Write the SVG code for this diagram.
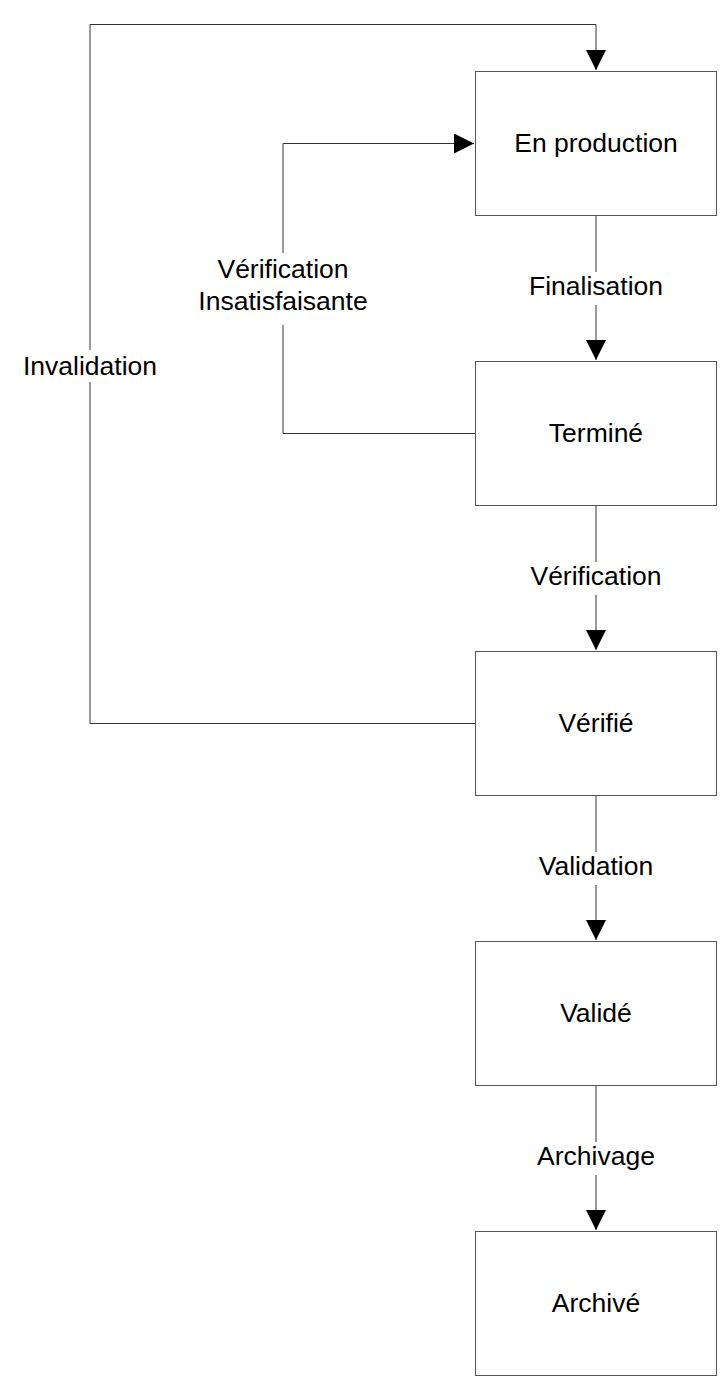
<svg xmlns="http://www.w3.org/2000/svg" width="722" height="1382" viewBox="0 0 722 1382">
<style>
.box{fill:#fff;stroke:#555;stroke-width:1}
.t{font-family:"Liberation Sans",Arial,sans-serif;font-size:26.5px;fill:#000;text-anchor:middle}
.c{fill:none;stroke:#333;stroke-width:1}
.bg{fill:#fff}
</style>
<defs>
<marker id="ah" viewBox="0 0 20 20" refX="20" refY="10" markerWidth="20" markerHeight="20" markerUnits="userSpaceOnUse" orient="auto">
<path d="M0,0 L20,10 L0,20 Z" fill="#000"/>
</marker>
</defs>
<g id="connectors">
<path class="c" d="M596,215 V360" marker-end="url(#ah)"/>
<path class="c" d="M596,506 V650" marker-end="url(#ah)"/>
<path class="c" d="M596,796 V940" marker-end="url(#ah)"/>
<path class="c" d="M596,1086 V1230" marker-end="url(#ah)"/>
<path class="c" d="M475,433.5 H283 V143.5 H474" marker-end="url(#ah)"/>
<path class="c" d="M475,723.5 H90 V24.5 H596 V70" marker-end="url(#ah)"/>
<rect class="bg" x="525" y="272" width="142" height="33"/>
<rect class="bg" x="523" y="562" width="146" height="33"/>
<rect class="bg" x="530" y="852" width="132" height="33"/>
<rect class="bg" x="531" y="1142" width="130" height="33"/>
<rect class="bg" x="193" y="253" width="180" height="72"/>
<rect class="bg" x="18" y="350" width="144" height="32"/>
<text class="t" x="596" y="295">Finalisation</text>
<text class="t" x="596" y="585">Vérification</text>
<text class="t" x="596" y="875">Validation</text>
<text class="t" x="596" y="1165">Archivage</text>
<text class="t" x="283" y="278">Vérification</text>
<text class="t" x="283" y="310">Insatisfaisante</text>
<text class="t" x="90" y="375">Invalidation</text>
</g>
<g id="en-production"><rect class="box" x="475.5" y="71.5" width="241" height="144"/><text class="t" x="596" y="152">En production</text></g>
<g id="termine"><rect class="box" x="475.5" y="361.5" width="241" height="144"/><text class="t" x="596" y="442">Terminé</text></g>
<g id="verifie"><rect class="box" x="475.5" y="651.5" width="241" height="144"/><text class="t" x="596" y="732">Vérifié</text></g>
<g id="valide"><rect class="box" x="475.5" y="941.5" width="241" height="144"/><text class="t" x="596" y="1022">Validé</text></g>
<g id="archive"><rect class="box" x="475.5" y="1231.5" width="241" height="144"/><text class="t" x="596" y="1312">Archivé</text></g>
</svg>
